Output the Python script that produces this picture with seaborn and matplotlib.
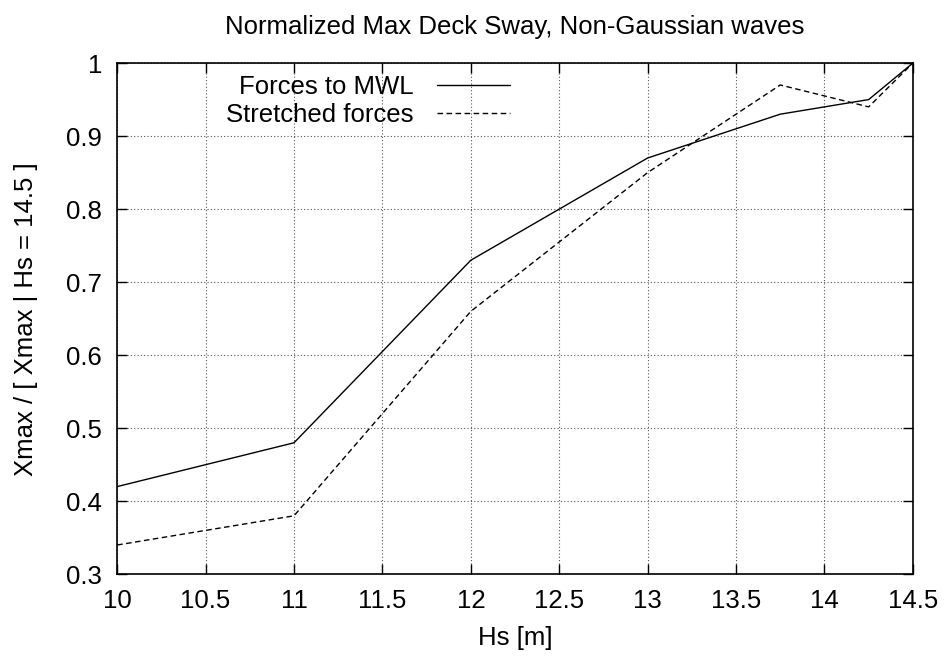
import matplotlib
matplotlib.use("Agg")
import matplotlib.pyplot as plt
import seaborn as sns
import pandas as pd

# Hs values and normalized max deck sway
hs = [10, 11, 12, 13, 13.75, 14.25, 14.5]
forces_mwl = [0.42, 0.48, 0.73, 0.87, 0.93, 0.95, 1.0]
stretched = [0.34, 0.38, 0.66, 0.85, 0.97, 0.94, 1.0]
x_ticks = [10, 10.5, 11, 11.5, 12, 12.5, 13, 13.5, 14, 14.5]
y_ticks = [0.3, 0.4, 0.5, 0.6, 0.7, 0.8, 0.9, 1.0]

sns.set_style("ticks")
plt.rcParams['font.family'] = ['Liberation Sans', 'DejaVu Sans']
plt.rcParams['text.color'] = 'black'
plt.rcParams['axes.labelcolor'] = 'black'
plt.rcParams['xtick.labelcolor'] = 'black'
plt.rcParams['ytick.labelcolor'] = 'black'
fs = 18.5

df = pd.DataFrame({"Hs": hs, "Forces to MWL": forces_mwl, "Stretched forces": stretched})

fig, ax = plt.subplots(figsize=(9.45, 6.57), dpi=100)
plt.subplots_adjust(left=0.124, right=0.966, bottom=0.126, top=0.904)

sns.lineplot(data=df, x="Hs", y="Forces to MWL", ax=ax, color='black', lw=1.0,
             label="Forces to MWL")
sns.lineplot(data=df, x="Hs", y="Stretched forces", ax=ax, color='black', lw=1.0,
             linestyle=(0, (4, 2.5)), label="Stretched forces")

ax.set_xlim(10, 14.5)
ax.set_ylim(0.3, 1.0)
ax.set_xticks(x_ticks)
ax.set_xticklabels([f"{v:g}" for v in x_ticks])
ax.set_yticks(y_ticks)
ax.set_yticklabels([f"{v:g}" for v in y_ticks])
ax.grid(True, color='#555555', linestyle=(0, (1, 2)), lw=0.8)
ax.tick_params(direction='in', length=7, width=1, top=True, right=True,
               labelsize=fs, color='black', labelcolor='black')
ax.tick_params(axis='x', pad=11)
ax.tick_params(axis='y', pad=11)
for s in ax.spines.values():
    s.set_linewidth(1.2)
    s.set_color('black')

ax.set_xlabel("Hs [m]", fontsize=fs, labelpad=9, color='black')
ax.set_ylabel("Xmax / [ Xmax | Hs = 14.5 ]", fontsize=fs, labelpad=20, color='black')
ax.set_title("Normalized Max Deck Sway, Non-Gaussian waves", fontsize=fs, pad=21,
             color='black')

leg = ax.legend(loc='upper right', bbox_to_anchor=(0.494, 0.977), frameon=False,
                markerfirst=False, fontsize=fs, handlelength=2.85,
                labelspacing=0.15, handletextpad=0.93, borderpad=0, borderaxespad=0)
for t in leg.get_texts():
    t.set_ha('right')
    t.set_color('black')
leg._legend_box.align = "right"

fig.savefig("out.png", dpi=100)
